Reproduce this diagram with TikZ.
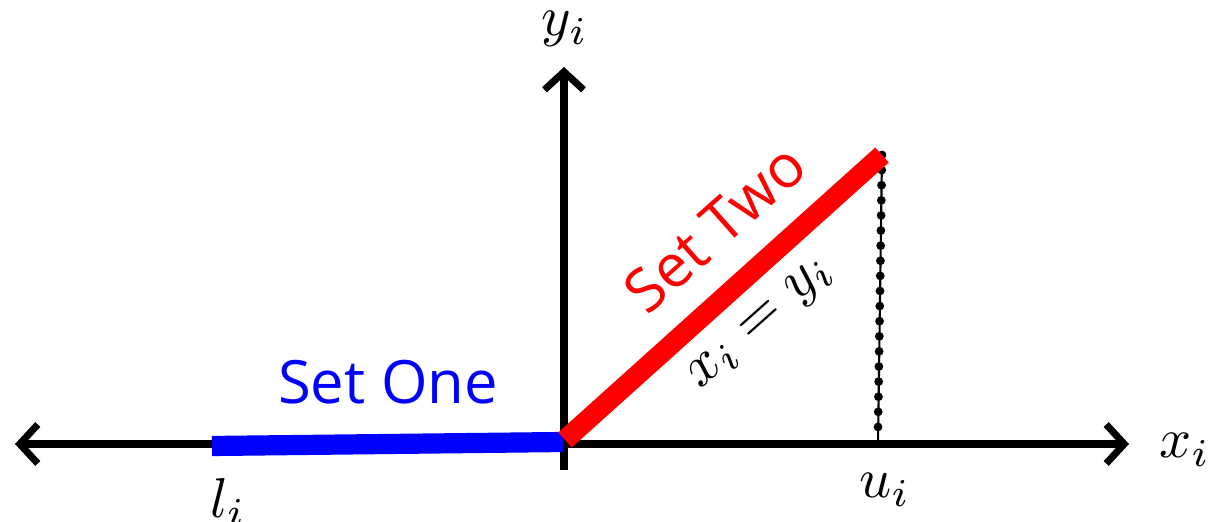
\documentclass[tikz,border=0pt]{standalone}
\usepackage{fontspec}
\newfontfamily\setfont{Open Sans}
\usetikzlibrary{arrows.meta}
\tikzset{
  axistip/.tip={Straight Barb[length=0.36cm,width=0.78cm]},
  axis/.style={line width=4pt},
  setline/.style={line width=11.5pt},
  setlabel/.style={font=\setfont\fontsize{34}{40}\selectfont},
  mathlabel/.style={scale=3.2},
}
\begin{document}
\begin{tikzpicture}[x=0.02cm,y=0.02cm]
  \useasboundingbox (-564,-77) rectangle (650,444);
  \coordinate (o) at (0,0);
  \coordinate (l) at (-352,-2);
  \coordinate (u) at (314,0);
  \coordinate (top) at (318,289);
  \draw[axis,axistip-axistip] (-549,0) -- (565,0);
  \draw[axis,-axistip] (0,-26) -- (0,377);
  \draw[line width=1.2pt] (top) -- (u);
  \draw[line width=5pt,line cap=round,dash pattern=on 0pt off 8.6pt] (top) -- (314,16);
  \draw[setline,blue] (l) -- (-1,2);
  \draw[setline,red] (1,4) -- (top);
  \node[setlabel,text=blue] (one) at (-176,62) {Set One};
  \node[setlabel,text=red,rotate=41.6] (two) at (151,216) {Set Two};
  \node[scale=3.3,rotate=41.6] (eq) at (198,119) {$x_i=y_i$};
  \node[mathlabel] (xi) at (621,-6) {$x_i$};
  \node[mathlabel] (yi) at (1,415) {$y_i$};
  \node[mathlabel] (li) at (-336,-58) {$l_i$};
  \node[mathlabel] (ui) at (321,-46) {$u_i$};
\end{tikzpicture}
\end{document}
